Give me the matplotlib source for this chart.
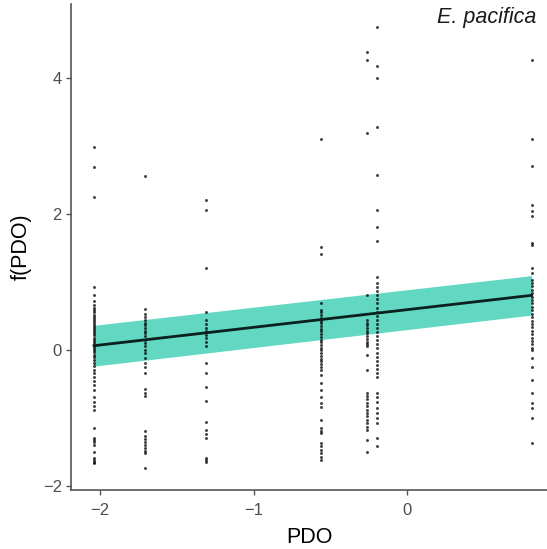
import matplotlib
matplotlib.use("Agg")
import matplotlib.pyplot as plt
import numpy as np

plt.rcParams['font.family'] = ['Liberation Sans', 'DejaVu Sans']

# PDO values (x) and partial effect values f(PDO) observed at each PDO level
pdo_levels = [-2.04, -1.71, -1.31, -0.56, -0.26, -0.20, 0.81]

f_m204 = [2.98, 2.69, 2.25, 0.92, 0.80, 0.72, 0.66, 0.62, 0.58, 0.55, 0.51, 0.48,
          0.45, 0.42, 0.39, 0.36, 0.33, 0.30, 0.27, 0.24, 0.21, 0.18, 0.15, 0.12,
          0.09, 0.06, 0.03, 0.00, -0.03, -0.07, -0.11, -0.15, -0.19, -0.24, -0.29,
          -0.34, -0.40, -0.46, -0.52, -0.59, -0.70, -0.76, -0.82, -0.88, -1.15,
          -1.29, -1.33, -1.36, -1.40, -1.50, -1.59, -1.62, -1.65, -1.67]
f_m171 = [2.55, 0.60, 0.52, 0.48, 0.44, 0.40, 0.36, 0.32, 0.28, 0.24, 0.20, 0.15,
          0.10, 0.05, 0.00, -0.05, -0.12, -0.19, -0.25, -0.34, -0.57, -0.63, -0.68,
          -1.20, -1.26, -1.31, -1.36, -1.40, -1.44, -1.48, -1.52, -1.74]
f_m131 = [2.20, 2.06, 1.20, 0.56, 0.44, 0.38, 0.32, 0.27, 0.22, 0.17, 0.11, 0.05,
          -0.19, -0.34, -0.55, -0.75, -1.06, -1.18, -1.23, -1.29, -1.59, -1.62, -1.65]
f_m056 = [3.10, 1.51, 1.40, 0.68, 0.59, 0.55, 0.51, 0.47, 0.43, 0.39, 0.35, 0.31,
          0.27, 0.23, 0.19, 0.15, 0.11, 0.07, 0.03, -0.01, -0.05, -0.09, -0.13,
          -0.17, -0.21, -0.25, -0.29, -0.37, -0.49, -0.59, -0.69, -0.78, -0.84,
          -1.03, -1.15, -1.19, -1.22, -1.37, -1.42, -1.47, -1.52, -1.57, -1.62]
f_m026 = [4.37, 4.26, 3.19, 0.81, 0.44, 0.40, 0.36, 0.32, 0.28, 0.24, 0.20, 0.16,
          0.12, 0.08, 0.05, -0.07, -0.29, -0.63, -0.68, -0.73, -0.78, -0.83, -0.88,
          -0.93, -0.98, -1.03, -1.08, -1.13, -1.18, -1.32, -1.50]
f_m020 = [4.74, 4.17, 3.99, 3.27, 2.57, 2.05, 1.81, 1.60, 1.07, 0.98, 0.92, 0.86,
          0.80, 0.74, 0.68, 0.62, 0.56, 0.50, 0.44, 0.38, 0.32, 0.26, 0.20, 0.14,
          0.08, 0.02, -0.04, -0.10, -0.16, -0.22, -0.28, -0.34, -0.40, -0.63, -0.70,
          -0.77, -0.85, -0.93, -1.00, -1.07, -1.29, -1.42]
f_p081 = [4.25, 3.09, 2.70, 2.13, 2.04, 1.96, 1.57, 1.54, 1.20, 1.13, 1.03, 0.98,
          0.93, 0.88, 0.83, 0.78, 0.73, 0.68, 0.63, 0.58, 0.53, 0.48, 0.43, 0.38,
          0.33, 0.28, 0.23, 0.18, 0.13, 0.08, 0.03, 0.00, -0.12, -0.26, -0.44, -0.63,
          -0.78, -0.85, -1.00, -1.37]

residual_groups = [f_m204, f_m171, f_m131, f_m056, f_m026, f_m020, f_p081]

# Fitted smooth and its confidence band
fit_x = [-2.04, 0.81]
fit_y = [0.06, 0.80]
band_lo = [-0.24, 0.51]
band_hi = [0.36, 1.09]

x_ticks = [-2, -1, 0]
y_ticks = [-2, 0, 2, 4]

W, H = 547, 549
fig = plt.figure(figsize=(W / 100, H / 100), dpi=100)
ax = fig.add_axes([71 / W, (H - 490) / H, (W - 71) / W, (490 - 4) / H])

ax.fill_between(fit_x, band_lo, band_hi, color="#62d8c3", linewidth=0, zorder=1)

px = np.concatenate([[x] * len(g) for x, g in zip(pdo_levels, residual_groups)])
py = np.concatenate(residual_groups)
ax.scatter(px, py, s=4.5, color="black", alpha=0.75, linewidths=0, zorder=2)

ax.plot(fit_x, fit_y, color="#0c201d", linewidth=2.0, zorder=3)

ax.set_xlim(-2.19, 0.91)
ax.set_ylim(-2.06, 5.08)
ax.set_xticks(x_ticks)
ax.set_yticks(y_ticks)

for side in ("top", "right"):
    ax.spines[side].set_visible(False)
for side in ("left", "bottom"):
    ax.spines[side].set_color("#555555")
    ax.spines[side].set_linewidth(1.2)

ax.tick_params(axis="both", colors="#555555", labelcolor="#4d4d4d",
               labelsize=12, length=3.5, width=1.0)
ax.tick_params(axis="x", pad=6)
ax.tick_params(axis="y", pad=3)

ax.set_xlabel("PDO", fontsize=15.5, color="black", labelpad=6)
ax.set_ylabel("f(PDO)", fontsize=15.5, color="black", labelpad=8)

ax.text(0.978, 0.993, "E. pacifica", transform=ax.transAxes, ha="right", va="top",
        fontsize=15.5, style="italic", color="#1a1a1a")

fig.savefig("out.png", dpi=100)
